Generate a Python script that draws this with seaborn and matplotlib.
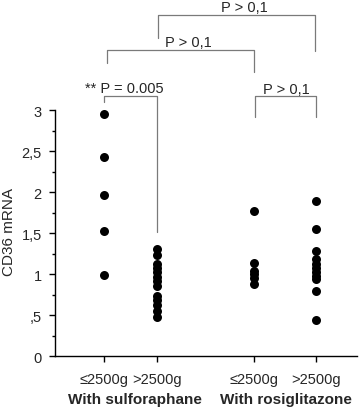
import numpy as np
import pandas as pd
import matplotlib
matplotlib.use("Agg")
import matplotlib.pyplot as plt
import seaborn as sns

# ---- data ----
groups = ["sulf_low", "sulf_high", "rosi_low", "rosi_high"]
tick_labels = ["≤2500g", ">2500g", "≤2500g", ">2500g"]
treatments = ["With sulforaphane", "With rosiglitazone"]
sulf_low = [2.95, 2.43, 1.97, 1.53, 0.99]
sulf_high = [1.31, 1.24, 1.13, 1.08, 1.03, 0.97, 0.92, 0.86, 0.74, 0.69, 0.62, 0.55, 0.48]
rosi_low = [1.77, 1.14, 1.04, 1.00, 0.95, 0.88]
rosi_high = [1.90, 1.55, 1.29, 1.19, 1.13, 1.08, 1.03, 0.98, 0.94, 0.80, 0.44]
ytick_values = [0, 0.5, 1, 1.5, 2, 2.5, 3]
ytick_labels = ["0", ",5", "1", "1,5", "2", "2,5", "3"]
p_texts = ["** P = 0.005", "P > 0,1", "P > 0,1", "P > 0,1"]

sns.set_style("ticks")
plt.rcParams["font.family"] = ["Liberation Sans", "DejaVu Sans"]

# layout positions for the four groups
xpos = [0.0, 1.0, 2.83, 4.0]
series = [sulf_low, sulf_high, rosi_low, rosi_high]
rows = []
for g, p, vals in zip(groups, xpos, series):
    for v in vals:
        rows.append({"group": g, "x": p, "value": v})
df = pd.DataFrame(rows)

W, H = 359, 410
fig = plt.figure(figsize=(W / 100, H / 100), dpi=100)
y0px = 357.3
unit = 82.0
ax = fig.add_axes([55 / W, (H - y0px) / H, (357 - 55) / W, y0px / H])

sns.scatterplot(data=df, x="x", y="value", ax=ax, color="black", s=42,
                edgecolor="black", linewidth=0, legend=False, zorder=3)

ax.set_xlim(-0.925, 4.77)
ax.set_ylim(0, y0px / unit)

ax.spines["top"].set_visible(False)
ax.spines["right"].set_visible(False)
ax.spines["left"].set_bounds(0, 3)
for s in ["left", "bottom"]:
    ax.spines[s].set_linewidth(1.0)
    ax.spines[s].set_color("black")

ax.set_yticks(ytick_values)
ax.set_yticklabels(ytick_labels, fontsize=10.5)
ax.set_yticks(np.arange(0.25, 3.0, 0.5), minor=True)
ax.tick_params(axis="y", which="major", length=4, width=1, pad=5.5, color="black")
ax.tick_params(axis="y", which="minor", length=2, width=1, color="black")

ax.set_xticks(xpos)
ax.set_xticklabels(tick_labels, fontsize=10.5)
ax.tick_params(axis="x", which="major", length=4, width=1, pad=7, color="black")
ax.set_xlabel("")
ax.set_ylabel("")

def Y(py):
    return (y0px - py) / unit

def X(px):
    return (px - 104) / 53.0

# group labels
ax.text(X(135), Y(400), treatments[0], ha="center", va="center",
        fontsize=11, fontweight="bold", clip_on=False)
ax.text(X(286), Y(400), treatments[1], ha="center", va="center",
        fontsize=11, fontweight="bold", clip_on=False)

# y label
fig.text(9 / W, 1 - 232 / H, "CD36 mRNA", rotation=90, ha="center", va="center", fontsize=11)

# significance brackets
gray = "#7a7a7a"
def bracket(x1, x2, ytop, yb1, yb2, text, tx, ty):
    ax.plot([x1, x1, x2, x2], [yb1, ytop, ytop, yb2], color=gray, lw=0.9,
            clip_on=False, zorder=2)
    ax.text(tx, ty, text, ha="center", va="baseline", fontsize=10.5, clip_on=False)

bracket(xpos[0], xpos[1], Y(96.7), Y(103.3), Y(233.3), p_texts[0], X(124), Y(93.3))
bracket(X(107), X(254), Y(50.7), Y(64.3), Y(72.7), p_texts[1], X(188), Y(46.7))
bracket(X(158), X(315), Y(15.7), Y(39), Y(51.7), p_texts[2], X(244), Y(12.3))
bracket(X(255), X(316), Y(96.7), Y(117.7), Y(117.7), p_texts[3], X(286), Y(94))

fig.savefig("out.png", dpi=100)
